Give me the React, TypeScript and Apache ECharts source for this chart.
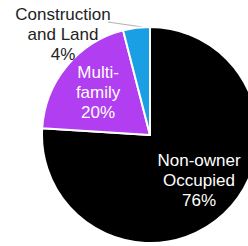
import React, { useEffect, useRef } from "react";
import * as echarts from "echarts";

const categories = ["Non-owner\nOccupied", "Multi-\nfamily", "Construction\nand Land"];
const values = [76, 20, 4];
const colors = ["#000000", "#b13ef0", "#1a9ee4"];

export default function App() {
  const ref = useRef<HTMLDivElement>(null);
  useEffect(() => {
    if (!ref.current) return;
    const chart = echarts.init(ref.current, undefined, { renderer: "svg" });
    const cx = 150;
    const cy = 135;
    const r = 108;
    chart.setOption({
      animation: false,
      series: [
        {
          type: "pie",
          center: [cx, cy],
          radius: r,
          startAngle: 90,
          clockwise: true,
          itemStyle: { borderColor: "#ffffff", borderWidth: 2 },
          label: {
            show: true,
            position: "inside",
            formatter: (p: any) => `${p.name}\n${p.value}%`,
            fontFamily: "Liberation Sans",
            fontSize: 17,
            lineHeight: 20,
            color: "#ffffff",
            align: "center",
            overflow: "none",
          },
          labelLine: { show: false },
          labelLayout: (p: any) => {
            if (p.dataIndex === 0) return { dx: 10, dy: 4 };
            if (p.dataIndex === 1) return { dx: -8, dy: -6 };
            return {
              x: 63,
              y: 34,
              align: "center",
              verticalAlign: "middle",
              labelLinePoints: [
                [143, 27],
                [125, 24.5],
                [108, 22],
              ],
            };
          },
          data: values.map((v, i) => ({
            name: categories[i],
            value: v,
            itemStyle: { color: colors[i] },
            ...(i === 2
              ? {
                  label: {
                    position: "outside",
                    color: "#222222",
                    overflow: "none",
                    width: 120,
                    align: "center",
                  },
                  labelLine: { show: true, lineStyle: { color: "#b0b0b0", width: 1 } },
                }
              : {}),
          })),
        },
      ],
    });
    return () => chart.dispose();
  }, []);
  return (
    <div
      ref={ref}
      style={{ position: "fixed", left: 0, top: 0, width: 248, height: 246, background: "#ffffff" }}
    />
  );
}
